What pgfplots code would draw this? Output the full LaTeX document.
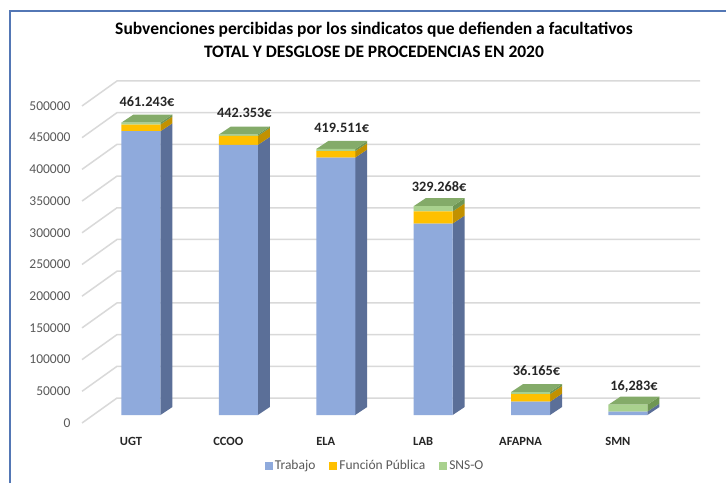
\documentclass[border=0pt]{standalone}
\usepackage{pgfplots}
\pgfplotsset{compat=1.18}
\usepackage{fontspec}
\setmainfont{Carlito}
\definecolor{cBlue}{HTML}{8FAADC}
\definecolor{cBlueS}{HTML}{5B6F98}
\definecolor{cYellow}{HTML}{FFC000}
\definecolor{cYellowS}{HTML}{C29100}
\definecolor{cGreen}{HTML}{A9D18E}
\definecolor{cGreenS}{HTML}{6F9653}
\definecolor{cGreenT}{HTML}{84AB69}
\definecolor{cGrid}{HTML}{D9D9D9}
\definecolor{cText}{HTML}{595959}
\definecolor{cBorder}{HTML}{5377B5}
\begin{document}
\begin{tikzpicture}[x=1pt,y=1pt]
\useasboundingbox (0,0) rectangle (726,483);
\fill[white] (0,0) rectangle (726,483);
\draw[cBorder, line width=1.2pt] (10,0) -- (10,472) -- (726,472);
\node[font=\fontsize{17.5}{20}\selectfont\bfseries, text=black] at (374,453) {Subvenciones percibidas por los sindicatos que defienden a facultativos};
\node[font=\fontsize{17.5}{20}\selectfont\bfseries, text=black] at (374,431) {TOTAL Y DESGLOSE DE PROCEDENCIAS EN 2020};

\pgfplotsset{common/.style={scale only axis, width=620pt, height=317.05pt,
  xmin=-0.626, xmax=5.74, ymin=0, ymax=500000,
  at={(80pt,68pt)}, anchor=south west, clip=false},
  gl/.style={cGrid, line width=1.5pt, mark=none}}

% back wall grid lines and 3D faces
\begin{axis}[common, hide axis, no markers]
\addplot[gl] coordinates {(-0.605,-12600) (-0.246,26800) (5.74,26800)};
\addplot[gl] coordinates {(-0.605,37400) (-0.246,76800) (5.74,76800)};
\addplot[gl] coordinates {(-0.605,87400) (-0.246,126800) (5.74,126800)};
\addplot[gl] coordinates {(-0.605,137400) (-0.246,176800) (5.74,176800)};
\addplot[gl] coordinates {(-0.605,187400) (-0.246,226800) (5.74,226800)};
\addplot[gl] coordinates {(-0.605,237400) (-0.246,276800) (5.74,276800)};
\addplot[gl] coordinates {(-0.605,287400) (-0.246,326800) (5.74,326800)};
\addplot[gl] coordinates {(-0.605,337400) (-0.246,376800) (5.74,376800)};
\addplot[gl] coordinates {(-0.605,387400) (-0.246,426800) (5.74,426800)};
\addplot[gl] coordinates {(-0.605,437400) (-0.246,476800) (5.74,476800)};
\addplot[gl] coordinates {(-0.605,487400) (-0.246,526800) (5.74,526800)};
% UGT
\addplot[fill=cBlueS, draw=none] coordinates {(0.2,0)(0.323,12600)(0.323,460100)(0.2,447500)};
\addplot[fill=cYellowS, draw=none] coordinates {(0.2,447500)(0.323,460100)(0.323,470600)(0.2,458000)};
\addplot[fill=cGreenS, draw=none] coordinates {(0.2,458000)(0.323,470600)(0.323,473843)(0.2,461243)};
\addplot[fill=cGreenT, draw=none] coordinates {(-0.2,461243)(0.2,461243)(0.323,473843)(-0.077,473843)};
% CCOO
\addplot[fill=cBlueS, draw=none] coordinates {(1.2,0)(1.323,12600)(1.323,438600)(1.2,426000)};
\addplot[fill=cYellowS, draw=none] coordinates {(1.2,426000)(1.323,438600)(1.323,452600)(1.2,440000)};
\addplot[fill=cGreenS, draw=none] coordinates {(1.2,440000)(1.323,452600)(1.323,454953)(1.2,442353)};
\addplot[fill=cGreenT, draw=none] coordinates {(0.8,442353)(1.2,442353)(1.323,454953)(0.923,454953)};
% ELA
\addplot[fill=cBlueS, draw=none] coordinates {(2.2,0)(2.323,12600)(2.323,418600)(2.2,406000)};
\addplot[fill=cYellowS, draw=none] coordinates {(2.2,406000)(2.323,418600)(2.323,428600)(2.2,416000)};
\addplot[fill=cGreenS, draw=none] coordinates {(2.2,416000)(2.323,428600)(2.323,432111)(2.2,419511)};
\addplot[fill=cGreenT, draw=none] coordinates {(1.8,419511)(2.2,419511)(2.323,432111)(1.923,432111)};
% LAB
\addplot[fill=cBlueS, draw=none] coordinates {(3.2,0)(3.323,12600)(3.323,314600)(3.2,302000)};
\addplot[fill=cYellowS, draw=none] coordinates {(3.2,302000)(3.323,314600)(3.323,333600)(3.2,321000)};
\addplot[fill=cGreenS, draw=none] coordinates {(3.2,321000)(3.323,333600)(3.323,341868)(3.2,329268)};
\addplot[fill=cGreenT, draw=none] coordinates {(2.8,329268)(3.2,329268)(3.323,341868)(2.923,341868)};
% AFAPNA
\addplot[fill=cBlueS, draw=none] coordinates {(4.2,0)(4.323,12600)(4.323,33600)(4.2,21000)};
\addplot[fill=cYellowS, draw=none] coordinates {(4.2,21000)(4.323,33600)(4.323,45600)(4.2,33000)};
\addplot[fill=cGreenS, draw=none] coordinates {(4.2,33000)(4.323,45600)(4.323,48765)(4.2,36165)};
\addplot[fill=cGreenT, draw=none] coordinates {(3.8,36165)(4.2,36165)(4.323,48765)(3.923,48765)};
% SMN
\addplot[fill=cBlueS, draw=none] coordinates {(5.2,0)(5.323,12600)(5.323,18100)(5.2,5500)};
\addplot[fill=cGreenS, draw=none] coordinates {(5.2,5500)(5.323,18100)(5.323,28883)(5.2,16283)};
\addplot[fill=cGreenT, draw=none] coordinates {(4.8,16283)(5.2,16283)(5.323,28883)(4.923,28883)};
\end{axis}

% front faces, ticks, labels, legend
\begin{axis}[common, ybar stacked, bar width=39pt,
  axis line style={draw=none}, tick style={draw=none}, scaled y ticks=false,
  xtick={0,1,2,3,4,5}, xticklabels={UGT,CCOO,ELA,LAB,AFAPNA,SMN},
  xticklabel style={font=\fontsize{12.5}{14}\selectfont\bfseries, text=black!85, xshift=-10pt, yshift=-19pt},
  ytick={0,50000,100000,150000,200000,250000,300000,350000,400000,450000,500000},
  yticklabels={0,50000,100000,150000,200000,250000,300000,350000,400000,450000,500000},
  yticklabel style={font=\fontsize{13.5}{15}\selectfont, text=cText, xshift=-6pt, yshift=-8pt},
  every axis plot/.append style={legend image code/.code={\fill[##1] (0pt,-4pt) rectangle (8pt,4pt);}},
  legend style={at={(0.476,-0.161)}, anchor=center, draw=none, fill=none,
    legend columns=3, font=\fontsize{13.5}{15}\selectfont, text=cText,
    /tikz/every even column/.append style={column sep=12pt}},
  legend cell align=left]
\addplot[fill=cBlue, draw=none] coordinates {(0,447500) (1,426000) (2,406000) (3,302000) (4,21000) (5,5500)};
\addplot[fill=cYellow, draw=none] coordinates {(0,10500) (1,14000) (2,10000) (3,19000) (4,12000) (5,0)};
\addplot[fill=cGreen, draw=none, point meta=explicit symbolic, nodes near coords,
  nodes near coords style={font=\fontsize{14.3}{16}\selectfont\bfseries, text=black!85, xshift=6pt, yshift=22pt}]
  coordinates {(0,3243) [461.243€] (1,2353) [442.353€] (2,3511) [419.511€] (3,8268) [329.268€] (4,3165) [36.165€] (5,10783) [{16,283€}]};
\legend{Trabajo, Función Pública, SNS-O}
\end{axis}
\end{tikzpicture}
\end{document}
